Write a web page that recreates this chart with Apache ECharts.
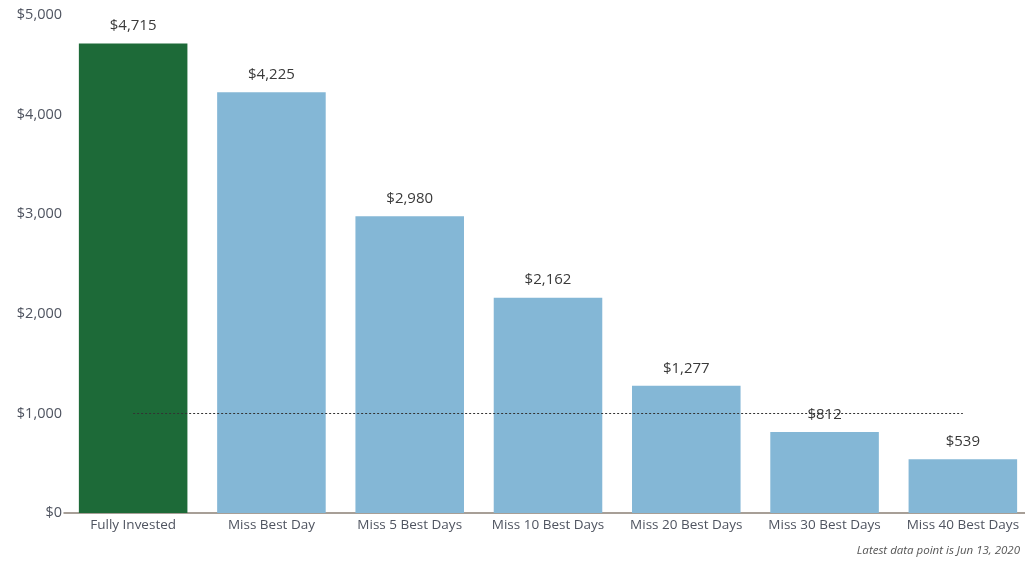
<!DOCTYPE html>
<html>
<head>
<meta charset="utf-8">
<script src="https://cdn.jsdelivr.net/npm/echarts@6/dist/echarts.min.js"></script>
<style>
html,body{margin:0;padding:0;background:#fff;overflow:hidden;width:1025px;height:561px;}
#c{width:1036px;height:561px;}
</style>
</head>
<body>
<div id="c"></div>
<script>
var categories = ['Fully Invested','Miss Best Day','Miss 5 Best Days','Miss 10 Best Days','Miss 20 Best Days','Miss 30 Best Days','Miss 40 Best Days'];
var values = [4715, 4225, 2980, 2162, 1277, 812, 539];
var barColors = ['#1d6a38','#84b7d6','#84b7d6','#84b7d6','#84b7d6','#84b7d6','#84b7d6'];
var yTicks = [0, 1000, 2000, 3000, 4000, 5000];
var referenceValue = 1000;
var footnote = 'Latest data point is Jun 13, 2020';

function money(v){ return '$' + Number(v).toLocaleString('en-US'); }

var chart = echarts.init(document.getElementById('c'));
chart.setOption({
  animation:false,
  backgroundColor:'#fff',
  textStyle:{fontFamily:'Open Sans'},
  grid:{left:64, top:15, width:968, height:498, containLabel:false},
  xAxis:{
    type:'category',
    data:categories,
    axisLine:{lineStyle:{color:'#8a8075', width:1.5}},
    axisTick:{show:false},
    axisLabel:{color:'#4f5460', fontSize:13.5, margin:5, interval:0}
  },
  yAxis:{
    type:'value',
    min:yTicks[0], max:yTicks[yTicks.length-1], interval:1000,
    splitLine:{show:false},
    axisLine:{show:false},
    axisTick:{show:false},
    axisLabel:{color:'#4f5460', fontSize:14.5, margin:2, formatter:function(v){return money(v);}}
  },
  graphic:[{
    type:'text', right:16, bottom:4,
    style:{text:footnote, fill:'#555', font:'italic 11.5px "Open Sans"'}
  }],
  series:[{
    type:'bar',
    data:values.map(function(v,i){return {value:v, itemStyle:{color:barColors[i]}};}),
    barWidth:'78.5%',
    label:{show:true, position:'top', distance:10, color:'#3a3a3a', fontSize:15, formatter:function(p){return money(p.value);}},
    markLine:{
      silent:true, symbol:'none',
      label:{show:false},
      lineStyle:{color:'#333', type:[2,2], width:1},
      data:[[{xAxis:categories[0], yAxis:referenceValue},{xAxis:categories[categories.length-1], yAxis:referenceValue}]]
    }
  }]
});
</script>
</body>
</html>
